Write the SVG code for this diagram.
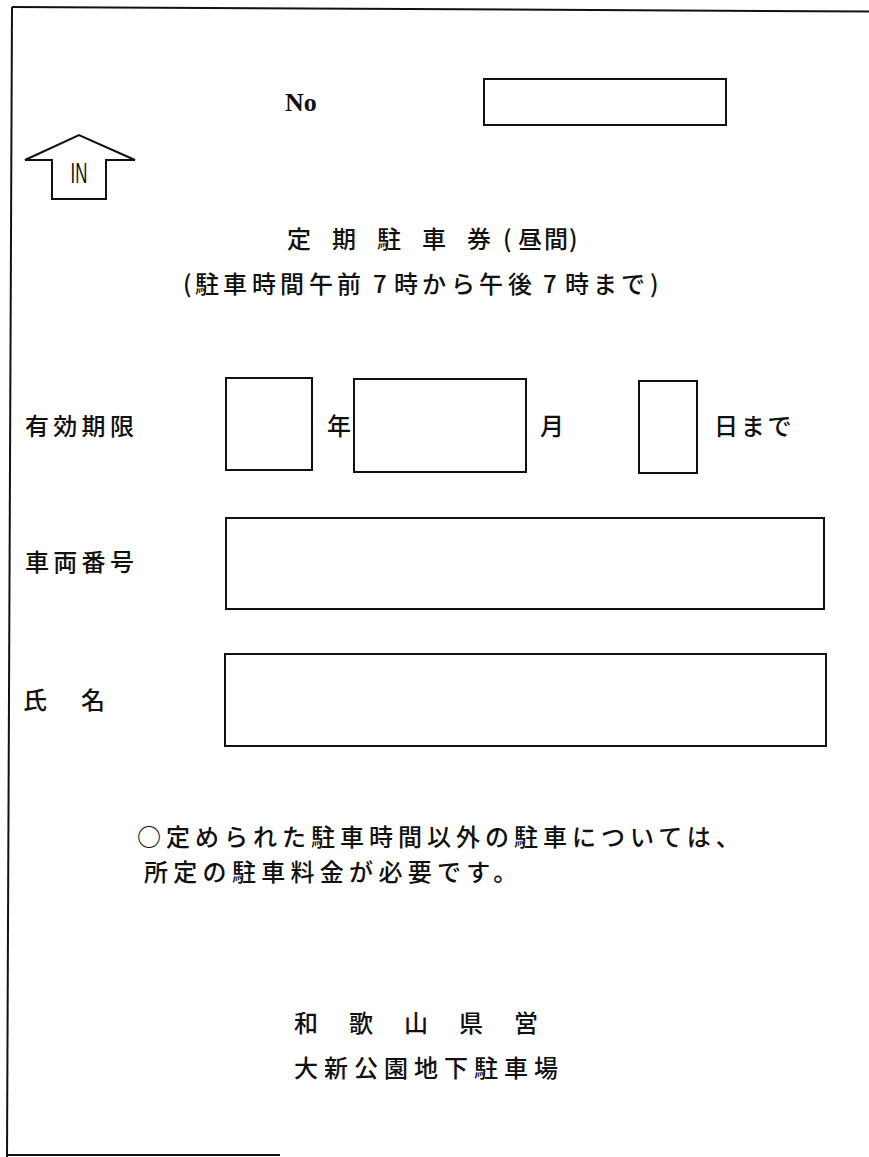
<svg xmlns="http://www.w3.org/2000/svg" width="869" height="1157" viewBox="0 0 869 1157">
<style>
.ln{fill:none;stroke:#111;stroke-width:2}
.bx{fill:none;stroke:#111;stroke-width:2}
.jp{font-family:"Noto Sans CJK JP","Noto Sans CJK SC",sans-serif;font-size:24px;font-weight:500;fill:#111}
.no{font-family:"Liberation Serif",serif;font-weight:bold;font-size:26px;fill:#111}
.in{font-family:"Liberation Sans",sans-serif;font-size:29px;fill:#111}
</style>
<rect width="869" height="1157" fill="#fff"/>
<g id="frame">
<path class="ln" d="M12 7 L869 11.5"/>
<path class="ln" d="M12 7 L7 1157"/>
<path class="ln" d="M7 1155 L280 1155"/>
</g>
<g id="in-arrow">
<polygon class="ln" points="25,160 79,135 135,160 106,160 106,199 52,199 52,160"/>
<text class="in" transform="translate(79,183) scale(0.58,1)" text-anchor="middle">IN</text>
</g>
<g id="number">
<text class="no" x="285" y="111">No</text>
<rect class="bx" x="484" y="79" width="242" height="46"/>
</g>
<g id="title">
<text class="jp" x="287 332 377 422 467 503 518 544 569" y="248">定期駐車券(昼間)</text>
<text class="jp" x="183 195 223 252 280 309 337 373 394 422 451 479 508 543 565 593 621 650" y="293">(駐車時間午前7時から午後7時まで)</text>
</g>
<g id="expiry">
<text class="jp" x="25" y="435" letter-spacing="4.3">有効期限</text>
<rect class="bx" x="226" y="378" width="86" height="92"/>
<text class="jp" x="327" y="435">年</text>
<rect class="bx" x="354" y="379" width="172" height="93"/>
<text class="jp" x="540" y="435">月</text>
<rect class="bx" x="639" y="381" width="58" height="92"/>
<text class="jp" x="714" y="435" letter-spacing="2.7">日まで</text>
</g>
<g id="vehicle">
<text class="jp" x="25" y="571" letter-spacing="4.3">車両番号</text>
<rect class="bx" x="226" y="518" width="598" height="91"/>
</g>
<g id="name">
<text class="jp" x="23" y="709">氏</text>
<text class="jp" x="81" y="709">名</text>
<rect class="bx" x="225" y="654" width="601" height="92"/>
</g>
<g id="notice">
<text class="jp" x="137" y="846" letter-spacing="5">○定められた駐車時間以外の駐車については、</text>
<text class="jp" x="144" y="881" letter-spacing="5.3">所定の駐車料金が必要です。</text>
</g>
<g id="issuer">
<text class="jp" x="294" y="1032" letter-spacing="31">和歌山県営</text>
<text class="jp" x="294" y="1077" letter-spacing="6">大新公園地下駐車場</text>
</g>
</svg>
